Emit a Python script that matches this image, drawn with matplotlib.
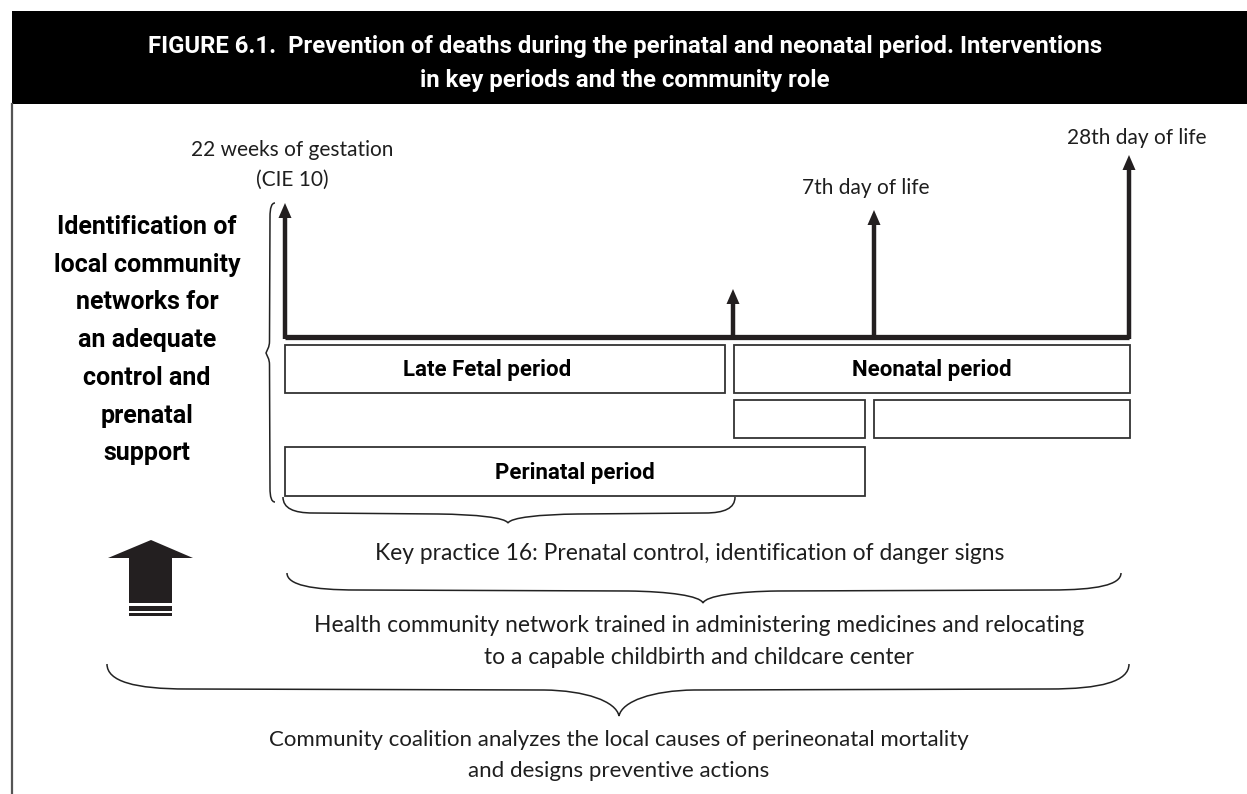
import matplotlib
matplotlib.use("Agg")
import matplotlib.pyplot as plt
from matplotlib.path import Path
from matplotlib.patches import PathPatch, Rectangle, Polygon
from matplotlib import font_manager

# ---------------- content ----------------
title_lines = ["FIGURE 6.1.  Prevention of deaths during the perinatal and neonatal period. Interventions",
               "in key periods and the community role"]
side_label = ["Identification of", "local community", "networks for", "an adequate",
              "control and", "prenatal", "support"]
milestones = [["22 weeks of gestation", "(CIE 10)"], [], ["7th day of life"], ["28th day of life"]]
period_boxes = ["Late Fetal period", "Neonatal period", "", "", "Perinatal period"]
brace_texts = [["Key practice 16: Prenatal control, identification of danger signs"],
               ["Health community network trained in administering medicines and relocating",
                "to a capable childbirth and childcare center"],
               ["Community coalition analyzes the local causes of perineonatal mortality",
                "and designs preventive actions"]]

# ---------------- fonts ----------------
names = {f.name for f in font_manager.fontManager.ttflist}
COND = dict(family="Roboto" if "Roboto" in names else "DejaVu Sans", weight="bold")
BODY = dict(family="Lato" if "Lato" in names else "DejaVu Sans", weight="normal")
TXT = "#1e1e1e"

W, H = 1247, 794
fig = plt.figure(figsize=(W / 100, H / 100), dpi=100)
ax = fig.add_axes([0, 0, 1, 1])
ax.set_xlim(0, W)
ax.set_ylim(H, 0)
ax.axis("off")

# header
ax.add_patch(Rectangle((12, 11), W - 12, 93, facecolor="black", edgecolor="none"))
ax.text(625, 47, title_lines[0], color="white", ha="center", va="center", fontsize=17.2, **COND)
ax.text(625, 81, title_lines[1], color="white", ha="center", va="center", fontsize=17.2, **COND)
# left border line
ax.plot([12, 12], [104, H], color="#555555", lw=1.6)

# side label
for i, s in enumerate(side_label):
    ax.text(147, 227 + i * 37.7, s, ha="center", va="center", fontsize=18, color="black", **COND)

# timeline
base_y = 337
arrow_x = [285, 733, 874, 1129]
arrow_top = [203, 289, 210, 155]
ax.plot([arrow_x[0], arrow_x[-1]], [base_y, base_y], color="#231f20", lw=3.8, solid_capstyle="butt")
for x, t in zip(arrow_x, arrow_top):
    ax.plot([x, x], [base_y + 2, t + 12], color="#231f20", lw=3.2, solid_capstyle="butt")
    ax.add_patch(Polygon([(x - 6.5, t + 15), (x + 6.5, t + 15), (x, t)], closed=True,
                         facecolor="#231f20", edgecolor="none"))

milestone_pos = [(292, 150), None, (866, 188), (1137, 138)]
for lines, pos in zip(milestones, milestone_pos):
    if not lines:
        continue
    for j, s in enumerate(lines):
        ax.text(pos[0], pos[1] + j * 30, s, ha="center", va="center", fontsize=15, color=TXT, **BODY)

# boxes
boxes = [(285, 345, 440, 48), (734, 345, 396, 48), (734, 400, 131, 38), (874, 400, 256, 38),
         (285, 447, 580, 49)]
label_x = [487, 932, None, None, 575]
for (x, y, w, h), lab, lx in zip(boxes, period_boxes, label_x):
    ax.add_patch(Rectangle((x, y), w, h, facecolor="white", edgecolor="#333333", lw=1.3))
    if lab:
        ax.text(lx, y + h / 2 + 1, lab, ha="center", va="center", fontsize=16,
                color="black", **COND)


# braces
def hbrace(x0, x1, xm, ytop, ymid, ytip, r, r2):
    verts = [(x0, ytop),
             (x0, ytop + 0.7 * (ymid - ytop)), (x0 + 0.35 * r, ymid), (x0 + r, ymid),
             (xm - r2, ymid + 1),
             (xm - 0.45 * r2, ymid + 1.5), (xm - 3, ytip - 0.55 * (ytip - ymid)), (xm, ytip),
             (xm + 3, ytip - 0.55 * (ytip - ymid)), (xm + 0.45 * r2, ymid + 1.5), (xm + r2, ymid + 1),
             (x1 - r, ymid),
             (x1 - 0.35 * r, ymid), (x1, ytop + 0.7 * (ymid - ytop)), (x1, ytop)]
    codes = [Path.MOVETO, Path.CURVE4, Path.CURVE4, Path.CURVE4, Path.LINETO,
             Path.CURVE4, Path.CURVE4, Path.CURVE4, Path.CURVE4, Path.CURVE4, Path.CURVE4,
             Path.LINETO, Path.CURVE4, Path.CURVE4, Path.CURVE4]
    ax.add_patch(PathPatch(Path(verts, codes), facecolor="none", edgecolor="#222222", lw=1.1))


def vbrace(xr, xmid, xtip, y0, y1, ym, r, r2):
    verts = [(xr, y0),
             (xmid + 0.3 * (xr - xmid), y0), (xmid, y0 + 0.35 * r), (xmid, y0 + r),
             (xmid - 0.5, ym - r2),
             (xmid - 0.5, ym - 0.45 * r2), (xtip + 1, ym - 3), (xtip, ym),
             (xtip + 1, ym + 3), (xmid - 0.5, ym + 0.45 * r2), (xmid - 0.5, ym + r2),
             (xmid, y1 - r),
             (xmid, y1 - 0.35 * r), (xmid + 0.3 * (xr - xmid), y1), (xr, y1)]
    codes = [Path.MOVETO, Path.CURVE4, Path.CURVE4, Path.CURVE4, Path.LINETO,
             Path.CURVE4, Path.CURVE4, Path.CURVE4, Path.CURVE4, Path.CURVE4, Path.CURVE4,
             Path.LINETO, Path.CURVE4, Path.CURVE4, Path.CURVE4]
    ax.add_patch(PathPatch(Path(verts, codes), facecolor="none", edgecolor="#222222", lw=1.1))


vbrace(275, 270, 266, 203, 502, 353, 14, 12)
hbrace(283, 735, 508, 497, 513, 523, 30, 70)
hbrace(287, 1121, 703, 573, 590, 603, 70, 75)
hbrace(107, 1129, 619, 664, 689, 716, 80, 75)

brace_text_pos = [(690, 553), (699, 626), (619, 740)]
brace_text_size = [16.4, 16.4, 16.0]
for lines, (tx, ty), fs in zip(brace_texts, brace_text_pos, brace_text_size):
    for j, s in enumerate(lines):
        ax.text(tx, ty + j * 31, s, ha="center", va="center", fontsize=fs, color=TXT, **BODY)

# big up arrow
ax.add_patch(Polygon([(108, 558), (151, 540), (193, 558), (172, 558), (172, 603), (129, 603), (129, 558)],
                     closed=True, facecolor="#231f20", edgecolor="none"))
ax.add_patch(Rectangle((129, 606), 43, 5, facecolor="#231f20", edgecolor="none"))
ax.add_patch(Rectangle((129, 613), 43, 2.5, facecolor="#231f20", edgecolor="none"))

fig.savefig("out.png", dpi=100, facecolor="white")
